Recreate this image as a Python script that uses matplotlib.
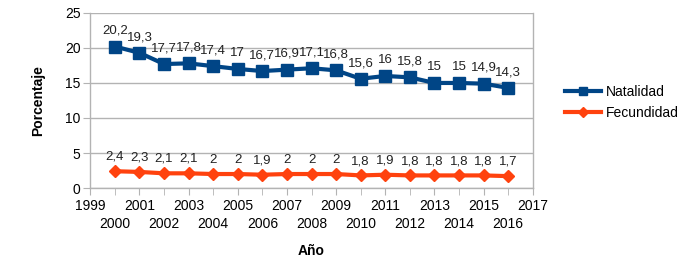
import matplotlib
matplotlib.use("Agg")
import matplotlib.pyplot as plt

years = list(range(2000, 2017))
natalidad = [20.2, 19.3, 17.7, 17.8, 17.4, 17, 16.7, 16.9, 17.1, 16.8, 15.6, 16, 15.8, 15, 15, 14.9, 14.3]
fecundidad = [2.4, 2.3, 2.1, 2.1, 2, 2, 1.9, 2, 2, 2, 1.8, 1.9, 1.8, 1.8, 1.8, 1.8, 1.7]
odd_years = list(range(1999, 2018, 2))
even_years = list(range(2000, 2017, 2))

blue = "#004586"
orange = "#ff420e"

plt.rcParams['font.family'] = ['Liberation Sans', 'DejaVu Sans']

fig = plt.figure(figsize=(7, 2.69), dpi=100)
ax = fig.add_axes([0.129, 0.301, 0.632, 0.651])

ax.plot(years, natalidad, color=blue, lw=3, marker='s', ms=8, label='Natalidad')
ax.plot(years, fecundidad, color=orange, lw=3, marker='D', ms=6, label='Fecundidad')

def fmt(v):
    return ('%g' % v).replace('.', ',')

for x, y in zip(years, natalidad):
    ax.annotate(fmt(y), (x, y), xytext=(0, 7), textcoords='offset points',
                ha='center', va='bottom', fontsize=9.5, color='#222222')
for x, y in zip(years, fecundidad):
    ax.annotate(fmt(y), (x, y), xytext=(0, 6), textcoords='offset points',
                ha='center', va='bottom', fontsize=9.5, color='#222222')

ax.set_xlim(1999, 2017)
ax.set_ylim(0, 25)
ax.set_yticks([0, 5, 10, 15, 20, 25])
ax.set_xticks(odd_years)
ax.set_xticklabels([str(y) for y in odd_years])
ax.set_xticks(even_years, minor=True)
ax.set_xticklabels([str(y) for y in even_years], minor=True)
ax.tick_params(axis='x', which='major', length=5, color='#b3b3b3', labelsize=10, pad=3)
ax.tick_params(axis='x', which='minor', length=5, color='#b3b3b3', labelsize=10, pad=16)
ax.tick_params(axis='y', length=5, color='#b3b3b3', labelsize=10, pad=2)
ax.grid(axis='y', color='#b3b3b3', lw=1)
ax.set_axisbelow(True)
for sp in ax.spines.values():
    sp.set_color('#b3b3b3')
    sp.set_linewidth(1)
ax.spines['top'].set_visible(False)

ax.set_xlabel('Año', fontsize=10, fontweight='bold', labelpad=9)
ax.set_ylabel('Porcentaje', fontsize=10, fontweight='bold', labelpad=14)

leg = ax.legend(loc='center left', bbox_to_anchor=(1.045, 0.49), frameon=False,
                fontsize=10, handlelength=2.6, handletextpad=0.3, labelspacing=0.5,
                markerscale=0.8)

fig.savefig('out.png', dpi=100)
